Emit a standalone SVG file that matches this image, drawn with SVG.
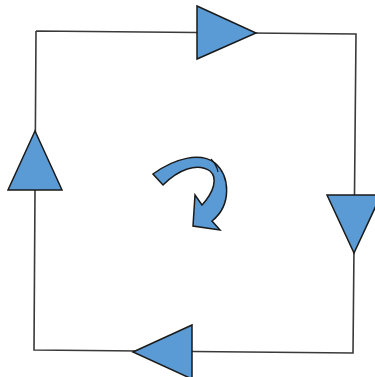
<svg xmlns="http://www.w3.org/2000/svg" width="375" height="377" viewBox="0 0 375 377">
<style>
.edge{fill:none;stroke:#3a3a3a;stroke-width:1.6}
.tri{fill:#5b9bd5;stroke:#1a1a1a;stroke-width:1.5;stroke-linejoin:miter}
</style>
<rect width="375" height="377" fill="#ffffff"/>
<g id="connectors">
<polyline class="edge" points="36,31 356,34 353,353 34,350 36,31"/>
</g>
<g id="arrow-top"><polygon class="tri" points="197,6 197,59 256,33"/></g>
<g id="arrow-right"><polygon class="tri" points="327,195 381,195 354,253"/></g>
<g id="arrow-bottom"><polygon class="tri" points="133,352 192,325 192,379"/></g>
<g id="arrow-left"><polygon class="tri" points="35,131 8,190 62,190"/></g>
<g id="rotation">
<path class="tri" d="M153,174 C175,158 200,152 215,163 C230,176 232,205 212,221 L220,230 L193,226 L195,195 L202,205 C214,192 218,178 210,171 C197,162 178,170 163,185 Z"/>
<path d="M211,159 C215,163 217,167 218,172" fill="none" stroke="#1a1a1a" stroke-width="1.2"/>
</g>
</svg>
